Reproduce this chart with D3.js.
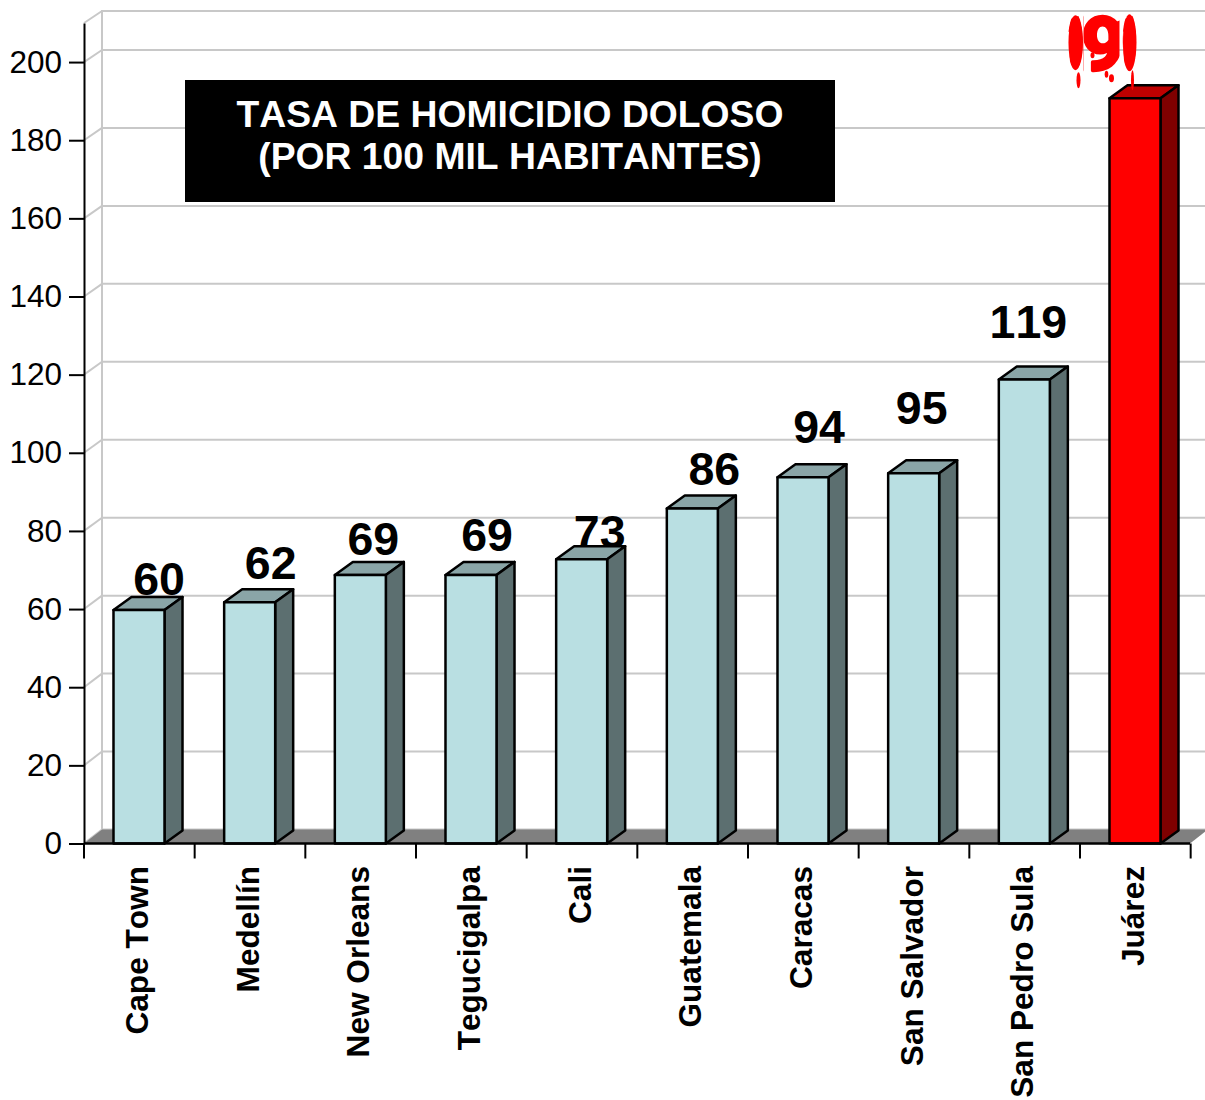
<!DOCTYPE html>
<html><head><meta charset="utf-8">
<script src="https://d3js.org/d3.v7.min.js"></script>
<style>html,body{margin:0;padding:0;background:#fff}svg{display:block}text{font-family:"Liberation Sans",Arial,sans-serif;font-kerning:none}</style>
</head><body><div id="c"></div>
<script>
const categories=["Cape Town","Medellín","New Orleans","Tegucigalpa","Cali","Guatemala","Caracas","San Salvador","San Pedro Sula","Juárez"];
const values=[60,62,69,69,73,86,94,95,119,191];
const yTicks=[0,20,40,60,80,100,120,140,160,180,200];
const titleLines=["TASA DE HOMICIDIO DOLOSO","(POR 100 MIL HABITANTES)"];
const labelDx=[20,21,13,16,18,22,16,8,4];
const labelDy=[-13,-21,-18,-22,-9,-21,-32,-47,-40];

const W=1205,H=1100,dx=18,dy=-13;
const svg=d3.select("#c").append("svg").attr("width",W).attr("height",H);
const y=d3.scaleLinear().domain([0,210]).range([843.5,23]);
const yBack=d3.scaleLinear().domain([0,200]).range([829.5,50]);
const x=d3.scaleBand().domain(categories).range([84,1190]).paddingInner(0.539).paddingOuter(0.2665);
const grid="#c8c8c8";
const x0=84,x1=1190,y0=y(0),yT=y(210);

// walls
const wall=svg.append("g").attr("fill","none").attr("stroke",grid).attr("stroke-width",2);
yTicks.concat([210]).forEach(t=>{
  wall.append("line").attr("x1",x0+dx).attr("x2",W).attr("y1",yBack(t)).attr("y2",yBack(t));
  wall.append("line").attr("x1",x0).attr("x2",x0+dx).attr("y1",y(t)).attr("y2",yBack(t));
});
wall.append("line").attr("x1",x0+dx).attr("x2",x0+dx).attr("y1",yBack(210)-1).attr("y2",yBack(0));
// floor
svg.append("polygon").attr("fill","#808080")
  .attr("points",[[x0,y0],[x0+dx,yBack(0)],[x1+dx,yBack(0)],[x1,y0]].join(" "));

// value labels (behind bars)
const lab=svg.append("g").attr("font-weight","bold").attr("font-size",46.5).attr("text-anchor","middle").attr("fill","#000");
values.slice(0,9).forEach((v,i)=>{
  lab.append("text").attr("x",x(categories[i])+x.bandwidth()/2+labelDx[i]).attr("y",y(v)+labelDy[i]-1).text(v);
});

// bars
const bars=svg.append("g").attr("stroke","#000").attr("stroke-width",2.5).attr("stroke-linejoin","round");
categories.forEach((c,i)=>{
  const hot=i===categories.length-1;
  const l=x(c),r=l+x.bandwidth(),t=y(values[i])+1;
  const g=bars.append("g");
  g.append("polygon").attr("fill",hot?"#bf0000":"#8aa5a7").attr("points",[[l,t],[l+dx,t+dy],[r+dx,t+dy],[r,t]].join(" "));
  g.append("polygon").attr("fill",hot?"#7f0000":"#5c6f70").attr("points",[[r,t],[r+dx,t+dy],[r+dx,y0+dy],[r,y0]].join(" "));
  g.append("rect").attr("x",l).attr("y",t).attr("width",x.bandwidth()).attr("height",y0-t).attr("fill",hot?"#ff0000":"#b9dfe2");
});

// axes
const ax=d3.axisLeft(y).tickValues(yTicks).tickSize(15).tickPadding(7).tickSizeOuter(0);
const gy=svg.append("g").attr("transform",`translate(${x0},0)`).call(ax);
gy.select(".domain").attr("stroke","#000").attr("stroke-width",2);
gy.selectAll(".tick line").attr("stroke","#000").attr("stroke-width",2);
gy.selectAll(".tick text").attr("font-size",31.5).attr("font-family","Liberation Sans").attr("fill","#000");

svg.append("line").attr("x1",x0).attr("x2",x1).attr("y1",y0).attr("y2",y0).attr("stroke","#000").attr("stroke-width",2.5);
const edges=d3.range(categories.length+1).map(i=>x0+i*x.step());
svg.append("g").selectAll("line").data(edges).join("line")
  .attr("x1",d=>d).attr("x2",d=>d).attr("y1",y0).attr("y2",y0+15).attr("stroke","#000").attr("stroke-width",2);
svg.append("g").selectAll("text").data(categories).join("text")
  .attr("transform",d=>`translate(${x(d)+x.bandwidth()/2+9},${y0+22.5}) rotate(-90)`)
  .attr("text-anchor","end").attr("font-weight","bold").attr("font-size",31.6).attr("fill","#000").text(d=>d);

// title
svg.append("rect").attr("x",185).attr("y",80).attr("width",650).attr("height",122).attr("fill","#000");
svg.append("g").selectAll("text").data(titleLines).join("text")
  .attr("x",510).attr("y",(d,i)=>127+i*42).attr("text-anchor","middle").attr("font-weight","bold").attr("font-size",37.3).attr("fill","#fff").text(d=>d);

// dripping 191: real text, masked to rounded blob shapes, plus drips
const hotName=categories[categories.length-1];
const bl=x(hotName), ty=y(values[9])+1;
const mask=svg.append("defs").append("mask").attr("id","bloodMask").attr("maskUnits","userSpaceOnUse")
  .attr("x",0).attr("y",0).attr("width",W).attr("height",H);
mask.append("ellipse").attr("cx",bl-34).attr("cy",ty-56).attr("rx",7.5).attr("ry",28).attr("fill","#fff");
mask.append("ellipse").attr("cx",bl+20).attr("cy",ty-56).attr("rx",7).attr("ry",29).attr("fill","#fff");
mask.append("rect").attr("x",bl-26).attr("y",0).attr("width",36).attr("height",ty).attr("fill","#fff");
const blood=svg.append("g").attr("fill","#ff0000").attr("stroke","#ff0000").attr("stroke-linejoin","round");
blood.append("g").attr("mask","url(#bloodMask)").append("text")
  .attr("x",[bl-57,bl-28,bl-3].join(" ")).attr("y",ty-28)
  .style("font-family","Roboto").attr("font-weight","bold").attr("font-size",75).attr("stroke-width",3.5).text(values[9]);
const blobs=[[-34,-56,7,27],[20,-56,6.5,28],
  [-31,-18,2,8],[23,-18,1.5,10],[2,-20,2.5,4],[-3,-24,1.8,3.5],[-17,-43,2,3]];
blobs.forEach(b=>blood.append("ellipse").attr("cx",bl+b[0]).attr("cy",ty+b[1]).attr("rx",b[2]).attr("ry",b[3]).attr("stroke","none"));
</script></body></html>
